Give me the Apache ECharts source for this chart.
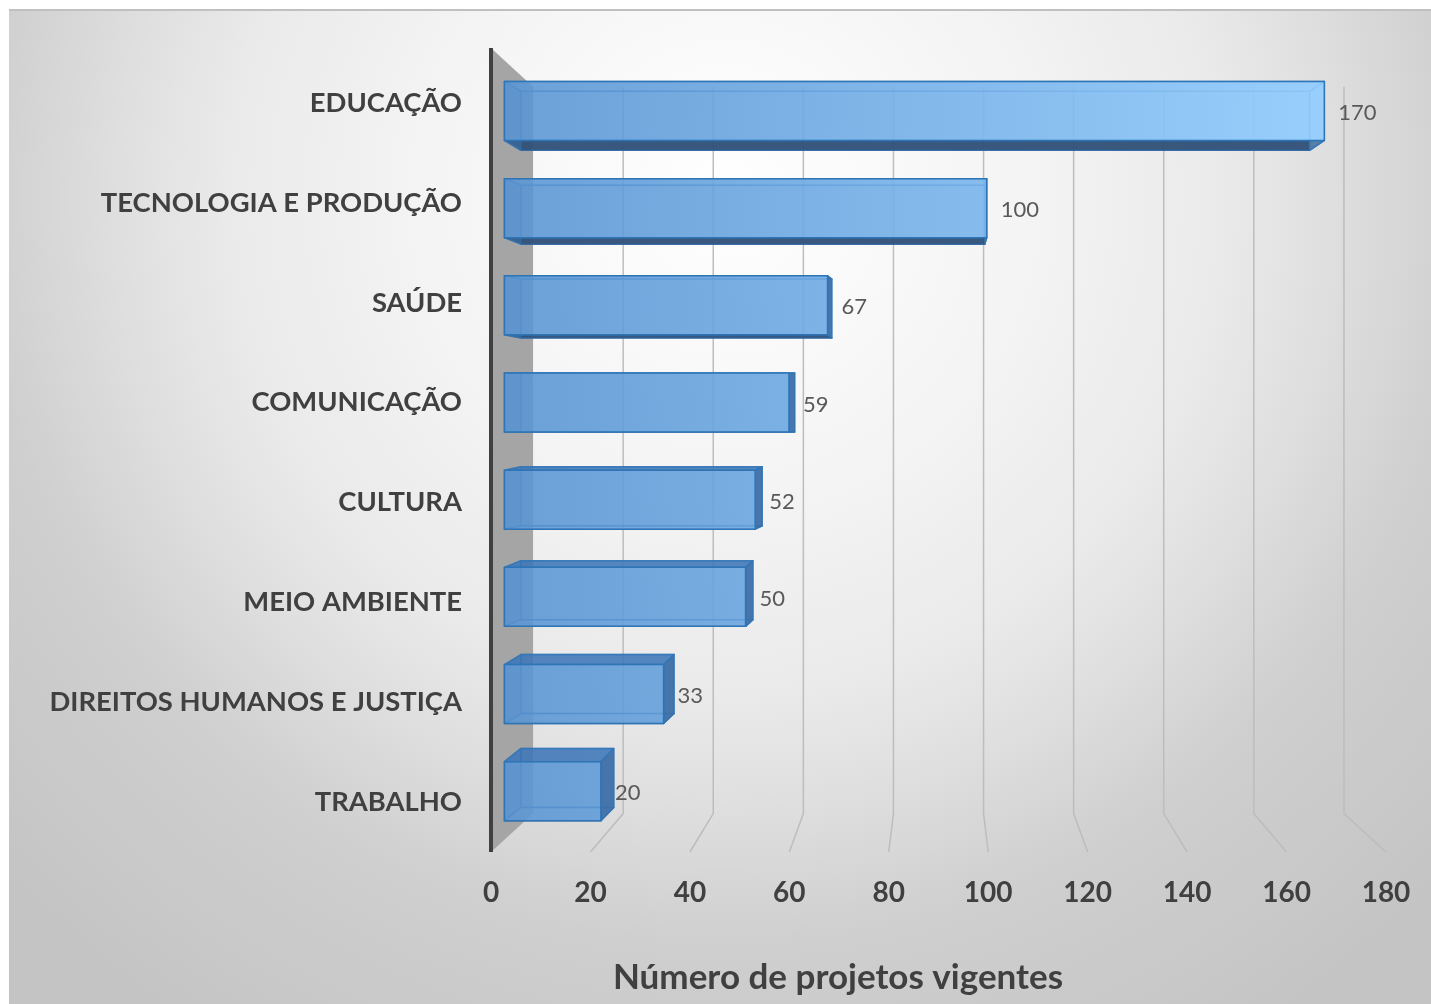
<!DOCTYPE html>
<html>
<head>
<meta charset="utf-8">
<style>
    html, body { margin: 0; padding: 0; background: #fff; }
    #chart { width: 1431px; height: 1004px; }
</style>
<script src="https://cdn.jsdelivr.net/npm/echarts@6/dist/echarts.min.js"></script>
</head>
<body>
<div id="chart"></div>
<script>
const categories = ['EDUCAÇÃO', 'TECNOLOGIA E PRODUÇÃO', 'SAÚDE', 'COMUNICAÇÃO', 'CULTURA', 'MEIO AMBIENTE', 'DIREITOS HUMANOS E JUSTIÇA', 'TRABALHO'];
const projetos = [170, 100, 67, 59, 52, 50, 33, 20];
const axisTicks = [20, 40, 60, 80, 100, 120, 140, 160, 180];
const axisTitle = 'Número de projetos vigentes';

// fake 3D: every depth plane is the axis plane scaled towards a vanishing point
const wallPlane = { sx: 0.906, sy: 0.904, vy: 452 };
const barFront = { sx: 0.97, sy: 0.973, vy: 400 };
const barBack = { sx: 0.933, sy: 0.94, vy: 400 };
const barHalf = 29.5;
const fontFamily = 'Lato, "Open Sans", sans-serif';

function project(api, v, y, plane) {
    const x = api.coord([v, 0])[0];
    const vx = api.coord([90, 0])[0];
    return [vx + (x - vx) * plane.sx, plane.vy + (y - plane.vy) * plane.sy];
}

function renderGridLine(params, api) {
    const v = api.value(0);
    const bottom = params.coordSys.y + params.coordSys.height;
    const top = params.coordSys.y - 5;
    return {
        type: 'polyline',
        shape: {
            points: [
                [api.coord([v, 0])[0], bottom],
                project(api, v, bottom, wallPlane),
                project(api, v, top, wallPlane)
            ]
        },
        style: { fill: null, stroke: '#bdbdbd', lineWidth: 1.5 }
    };
}

function renderWall(params, api) {
    const bottom = params.coordSys.y + params.coordSys.height;
    const top = params.coordSys.y - 5;
    const x = api.coord([0, 0])[0];
    return {
        type: 'group',
        children: [
            {
                type: 'polygon',
                shape: {
                    points: [[x, top], project(api, 0, top, wallPlane), project(api, 0, bottom, wallPlane), [x, bottom]]
                },
                style: { fill: '#a5a5a5' }
            },
            {
                type: 'line',
                shape: { x1: x, y1: top, x2: x, y2: bottom },
                style: { stroke: '#404040', lineWidth: 4 }
            }
        ]
    };
}

function renderBar(params, api) {
    const v = api.value(0);
    const cy = api.coord([v, api.value(1)])[1];
    const corner = (val, plane, sign) => {
        const p = project(api, val, cy, plane);
        return [p[0], p[1] + sign * barHalf];
    };
    const fTL = corner(0, barFront, -1), fTR = corner(v, barFront, -1);
    const fBL = corner(0, barFront, 1), fBR = corner(v, barFront, 1);
    const bTL = corner(0, barBack, -1), bTR = corner(v, barBack, -1);
    const bBL = corner(0, barBack, 1), bBR = corner(v, barBack, 1);

    const edge = '#2e75b6';
    const hidden = 'rgba(130,190,245,0.3)';
    const face = (points, fill, stroke) => ({
        type: 'polygon',
        shape: { points },
        style: { fill, stroke: stroke || edge, lineWidth: 1.5, lineJoin: 'round' }
    });
    const frontFill = new echarts.graphic.LinearGradient(
        project(api, 0, 0, barFront)[0], 0, project(api, 170, 0, barFront)[0], 0,
        [
            { offset: 0, color: 'rgba(88,148,210,0.84)' },
            { offset: 1, color: 'rgba(148,206,255,0.9)' }
        ],
        true
    );
    const front = project(api, v, cy, barFront);

    return {
        type: 'group',
        children: [
            face([bTL, bTR, bBR, bBL], 'rgba(100,165,230,0.25)', 'rgba(46,117,182,0.6)'),
            face([fTL, fTR, bTR, bTL], bTL[1] < fTL[1] ? 'rgba(62,118,182,0.85)' : hidden, 'rgba(46,117,182,0.8)'),
            face([fBL, fBR, bBR, bBL], bBL[1] > fBL[1] ? 'rgba(50,80,118,0.95)' : hidden, 'rgba(46,100,160,0.8)'),
            face([fTL, fBL, bBL, bTL], 'rgba(70,125,190,0.35)', 'rgba(46,117,182,0.5)'),
            face([fTR, fBR, bBR, bTR], bBR[0] > fBR[0] ? 'rgba(62,112,168,0.95)' : 'rgba(140,200,250,0.35)', 'rgba(46,117,182,0.8)'),
            face([fTL, fTR, fBR, fBL], frontFill),
            {
                type: 'text',
                style: {
                    text: String(v),
                    x: front[0] + 14,
                    y: front[1] + 2,
                    verticalAlign: 'middle',
                    fill: '#595959',
                    font: '22px ' + fontFamily
                }
            }
        ]
    };
}

const chart = echarts.init(document.getElementById('chart'));

chart.setOption({
    animation: false,
    graphic: [
        {
            type: 'rect',
            z: -10,
            shape: { x: 9, y: 9, width: 1422, height: 995 },
            style: {
                fill: new echarts.graphic.RadialGradient(0.5035, 0.19, 1, [
                    { offset: 0, color: '#ffffff' },
                    { offset: 0.3, color: '#f4f4f4' },
                    { offset: 0.5, color: '#eaeaea' },
                    { offset: 0.6, color: '#e0e0e0' },
                    { offset: 0.75, color: '#cfcfcf' },
                    { offset: 1, color: '#c4c4c4' }
                ])
            }
        },
        {
            type: 'line',
            z: -9,
            shape: { x1: 9, y1: 10, x2: 1431, y2: 10 },
            style: { stroke: '#c0c0c0', lineWidth: 2 }
        }
    ],
    title: {
        text: axisTitle,
        left: 833,
        top: 955,
        textAlign: 'center',
        textStyle: { fontFamily, fontSize: 35, fontWeight: 'bold', color: '#404040' }
    },
    grid: { left: 491, top: 53, width: 895, height: 799 },
    xAxis: {
        type: 'value',
        min: 0,
        max: 180,
        interval: 20,
        axisLine: { show: false },
        axisTick: { show: false },
        splitLine: { show: false },
        axisLabel: { margin: 27, fontFamily, fontSize: 28, fontWeight: 'bold', color: '#404040' }
    },
    yAxis: {
        type: 'category',
        inverse: true,
        data: categories,
        axisLine: { show: false },
        axisTick: { show: false },
        splitLine: { show: false },
        axisLabel: { margin: 29, fontFamily, fontSize: 27.4, fontWeight: 'bold', color: '#404040', padding: [3, 0, 0, 0] }
    },
    series: [
        {
            type: 'custom',
            name: 'grid',
            clip: false,
            silent: true,
            z: 1,
            renderItem: renderGridLine,
            encode: { x: 0 },
            data: axisTicks.map(t => [t, 0])
        },
        {
            type: 'custom',
            name: 'wall',
            clip: false,
            silent: true,
            z: 2,
            renderItem: renderWall,
            encode: { x: 0 },
            data: [[0, 0]]
        },
        {
            type: 'custom',
            name: 'Número de projetos vigentes',
            clip: false,
            z: 3,
            renderItem: renderBar,
            encode: { x: 0, y: 1 },
            data: projetos.map((v, i) => [v, i])
        }
    ]
});
</script>
</body>
</html>
